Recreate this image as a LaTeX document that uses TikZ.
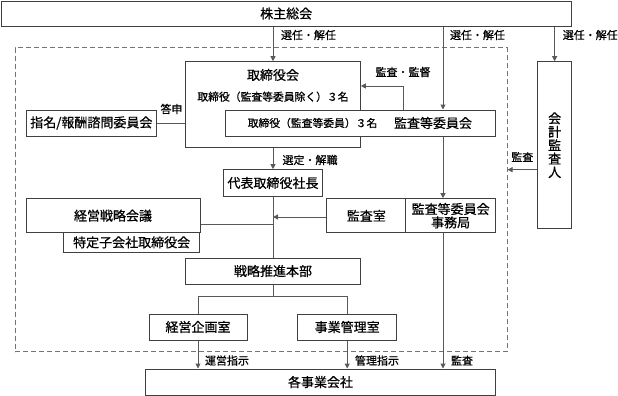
\documentclass[tikz,border=0pt]{standalone}
\usepackage{fontspec}
\setmainfont{Noto Sans CJK JP}[FakeBold=0.7]
\usetikzlibrary{arrows.meta}
\begin{document}
\begin{tikzpicture}[x=0.75pt,y=-0.75pt,
  box/.style={draw=black!75, line width=0.75pt, fill=white, inner sep=0pt,
    font=\fontsize{9.75pt}{10.1pt}\selectfont, align=center},
  txt/.style={inner sep=0pt, font=\fontsize{9.75pt}{10.1pt}\selectfont},
  small/.style={inner sep=0pt, font=\fontsize{8.1pt}{9pt}\selectfont},
  lab/.style={inner sep=0pt, font=\fontsize{8.25pt}{9pt}\selectfont},
  conn/.style={draw=black!65, line width=0.75pt},
  arr/.style={conn, -{Triangle[width=3.75pt,length=3.75pt]}},
  frame/.style={draw=black!55, line width=0.75pt, dash pattern=on 3.75pt off 2.25pt, inner sep=0pt}
]
\useasboundingbox (0,0) rectangle (618,396);

% dashed frame
\node[frame, minimum width=369pt, minimum height=228pt] (frm) at (261,199.7) {};

% boxes
\node[box, minimum width=427.7pt, minimum height=18.75pt] (sh) at (286.2,13.5) {株主総会};
\node[box, minimum width=130.95pt, minimum height=64.7pt] (tb) at (273,104.85) {};
\node[txt] (tb1) at (273,75) {取締役会};
\node[small] (tb2) at (273,96.7) {取締役（監査等委員除く）３名};
\node[box, minimum width=202.5pt, minimum height=19.5pt] (kt) at (360,123) {};
\node[small] (kt1) at (312.5,123) {取締役（監査等委員）３名};
\node[txt] (kt2) at (433,123) {監査等委員会};
\node[box, minimum width=98pt, minimum height=19.5pt] (sm) at (91.35,123) {指名/報酬諮問委員会};
\node[box, minimum width=25pt, minimum height=125.25pt] (ka) at (554.65,145.2) {会\\計\\監\\査\\人};
\node[box, minimum width=74.55pt, minimum height=19.95pt] (dp) at (273,183) {代表取締役社長};
\node[box, minimum width=102.5pt, minimum height=14.5pt] (tt) at (131.65,242.35) {特定子会社取締役会};
\node[box, minimum width=130.5pt, minimum height=25.5pt] (ks) at (113,215.7) {経営戦略会議};
\node[box, minimum width=59.5pt, minimum height=25.5pt] (ksr) at (366.35,215.7) {監査室};
\node[box, minimum width=67pt, minimum height=25.5pt] (jm) at (450.65,215.7) {監査等委員会\\事務局};
\node[box, minimum width=130.95pt, minimum height=19.5pt] (sp) at (273,271) {戦略推進本部};
\node[box, minimum width=73.5pt, minimum height=19.5pt] (kk) at (198,327) {経営企画室};
\node[box, minimum width=74.25pt, minimum height=19.5pt] (jk) at (347.2,327) {事業管理室};
\node[box, minimum width=262.2pt, minimum height=19.5pt] (kj) at (320.5,382) {各事業会社};

% helper coordinates
\coordinate (c443) at (443,0);
\coordinate (c403) at (403,86);
\coordinate (c170) at (0,169.7);
\coordinate (c217) at (273,217);
\coordinate (c224) at (273,224.5);
\coordinate (tj) at (273,296.3);

% connectors
\draw[arr] (sh.south -| tb.north) -- (tb.north);
\draw[arr] (sh.south -| c443) -- (kt.north -| c443);
\draw[arr] (sh.south -| ka.north) -- (ka.north);
\draw[arr] (kt.north -| c403) -- (c403) -- (tb.east |- c403);
\draw[conn] (sm.east) -- (sm.east -| tb.west);
\draw[arr] (ka.west |- c170) -- (frm.east |- c170);
\draw[arr] (tb.south) -- (dp.north);
\draw[arr] (kt.south -| c443) -- (jm.north -| c443);
\draw[conn] (dp.south) -- (sp.north);
\draw[arr] (ksr.west |- c217) -- (c217);
\draw[conn] (ks.east |- c224) -- (c224);
\draw[conn] (sp.south) -- (tj);
\draw[conn] (kk.north) |- (tj) -| (jk.north);
\draw[arr] (kk.south) -- (kk.south |- kj.north);
\draw[arr] (jk.south) -- (jk.south |- kj.north);
\draw[arr] (jm.south -| c443) -- (kj.north -| c443);

% labels
\node[lab] (l1) at (308.5,35) {選任・解任};
\node[lab] (l2) at (477.5,35) {選任・解任};
\node[lab] (l3) at (590.3,35) {選任・解任};
\node[lab] (l4) at (403,72) {監査・監督};
\node[lab] (l5) at (171.5,109) {答申};
\node[lab] (l6) at (310,160) {選定・解職};
\node[lab] (l7) at (522.3,157) {監査};
\node[lab] (l8) at (227,360.5) {運営指示};
\node[lab] (l9) at (377,360.5) {管理指示};
\node[lab] (l10) at (462,360.5) {監査};
\end{tikzpicture}
\end{document}
